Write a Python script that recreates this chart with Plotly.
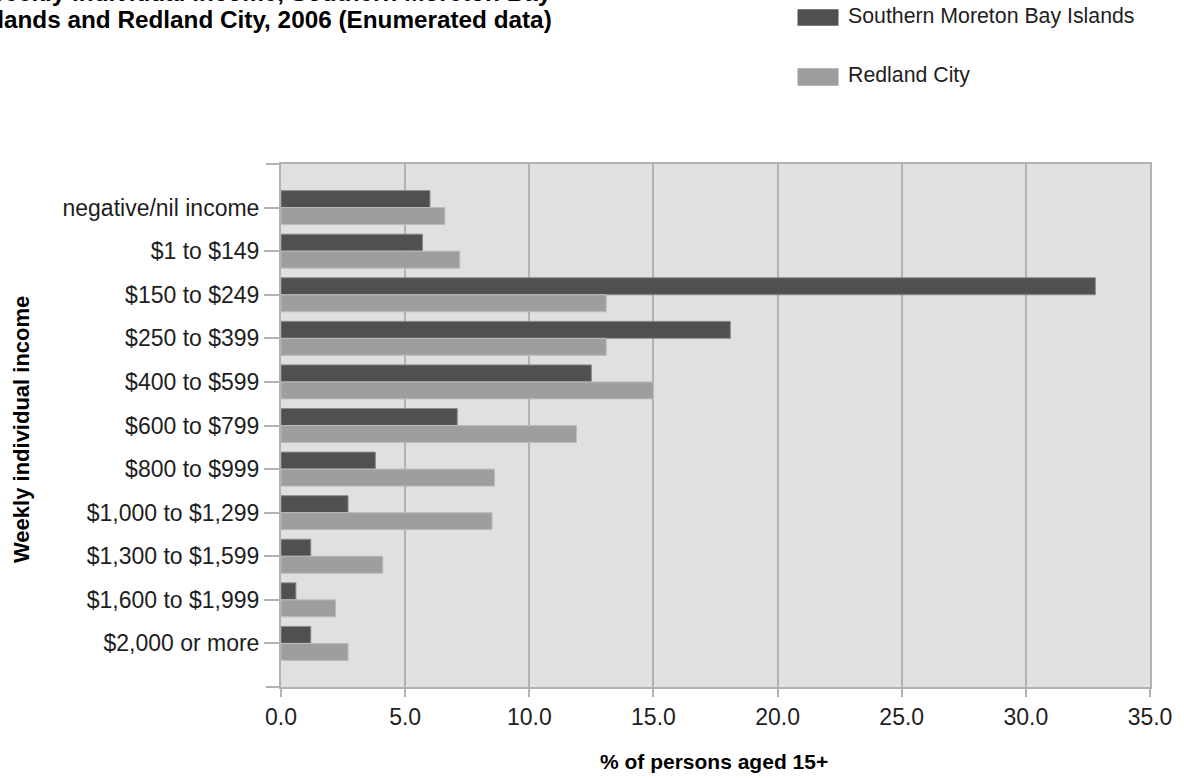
import plotly.graph_objects as go

# Weekly individual income distribution, 2006 census (enumerated data)
categories = [
    "negative/nil income", "$1 to $149", "$150 to $249", "$250 to $399",
    "$400 to $599", "$600 to $799", "$800 to $999", "$1,000 to $1,299",
    "$1,300 to $1,599", "$1,600 to $1,999", "$2,000 or more",
]
smbi_pct = [6.0, 5.7, 32.8, 18.1, 12.5, 7.1, 3.8, 2.7, 1.2, 0.6, 1.2]
redland_pct = [6.6, 7.2, 13.1, 13.1, 15.0, 11.9, 8.6, 8.5, 4.1, 2.2, 2.7]
series_names = ["Southern Moreton Bay Islands", "Redland City"]
x_ticks = [0, 5, 10, 15, 20, 25, 30, 35]

title_line1 = "Weekly individual income, Southern Moreton Bay"
title_line2 = "Islands and Redland City, 2006 (Enumerated data)"

DARK = "#505050"
LIGHT = "#9e9e9e"
GRID = "#b2b2b2"
TEXT = "#1e1e1e"
FONT = "Liberation Sans, Arial, sans-serif"

W, H = 1184, 778
ML, MR, MT, MB = 281, 34, 164, 91
PW, PH = W - ML - MR, H - MT - MB


def px_x(px):
    return (px - ML) / PW


def px_y(py):
    return (H - MB - py) / PH


fig = go.Figure()
fig.add_trace(go.Bar(
    y=categories, x=smbi_pct, orientation="h", name=series_names[0],
    marker=dict(color=DARK, line=dict(color="#8c8c8c", width=1)),
))
fig.add_trace(go.Bar(
    y=categories, x=redland_pct, orientation="h", name=series_names[1],
    marker=dict(color=LIGHT, line=dict(color="#bcbcbc", width=1)),
))

shapes = []
# outer tick marks at the top and bottom edges of the category axis
for yy in (0, 1):
    shapes.append(dict(type="line", xref="paper", yref="paper",
                       x0=-15 / PW, x1=0, y0=yy, y1=yy,
                       line=dict(color=GRID, width=2)))

# legend swatches and labels
annotations = []
legend_rows = [(9.3, 25.7, DARK), (68.3, 85.7, LIGHT)]
for (top, bottom, col), name in zip(legend_rows, series_names):
    shapes.append(dict(type="rect", xref="paper", yref="paper",
                       x0=px_x(797.5), x1=px_x(838.5),
                       y0=px_y(bottom), y1=px_y(top),
                       fillcolor=col, line=dict(width=0)))
    annotations.append(dict(
        text=name, xref="paper", yref="paper",
        x=px_x(846), y=px_y((top + bottom) / 2 - 1.5),
        xanchor="left", yanchor="middle", showarrow=False,
        font=dict(family=FONT, size=21.3, color=TEXT)))

# chart title (two lines)
for line, cy in ((title_line1, -7.5), (title_line2, 19.5)):
    annotations.append(dict(
        text=f"<b>{line}</b>", xref="paper", yref="paper",
        x=px_x(554), y=px_y(cy), xanchor="right", yanchor="middle",
        showarrow=False, font=dict(family=FONT, size=24.3, color="#000000")))

# axis titles
annotations.append(dict(
    text="<b>% of persons aged 15+</b>", xref="paper", yref="paper",
    x=px_x(713.5), y=px_y(761), xanchor="center", yanchor="middle",
    showarrow=False, font=dict(family=FONT, size=21, color="#000000")))
annotations.append(dict(
    text="<b>Weekly individual income</b>", xref="paper", yref="paper",
    x=px_x(22), y=px_y(430), xanchor="center", yanchor="middle",
    textangle=-90, showarrow=False,
    font=dict(family=FONT, size=22, color="#000000")))

fig.update_layout(
    width=W, height=H,
    margin=dict(l=ML, r=MR, t=MT, b=MB, pad=0),
    paper_bgcolor="white", plot_bgcolor="#e0e0e0",
    barmode="group", bargap=0.22, bargroupgap=0.0,
    showlegend=False,
    font=dict(family=FONT, size=23, color=TEXT),
    shapes=shapes, annotations=annotations,
)
fig.update_xaxes(
    range=[0, 35], tickvals=x_ticks, tickformat=".1f",
    showgrid=True, gridcolor=GRID, gridwidth=2,
    showline=True, mirror=True, linecolor=GRID, linewidth=2,
    ticks="outside", ticklen=8, tickcolor=GRID, tickwidth=2,
    tickfont=dict(family=FONT, size=23, color=TEXT),
    zeroline=False, automargin=False,
)
fig.update_yaxes(
    type="category", categoryorder="array", categoryarray=categories,
    range=[len(categories), -1],
    showgrid=False,
    showline=True, mirror=True, linecolor=GRID, linewidth=2,
    ticks="outside", ticklen=15, tickcolor=GRID, tickwidth=2,
    tickfont=dict(family=FONT, size=23, color=TEXT),
    automargin=False,
)

fig.write_html("out.html")
